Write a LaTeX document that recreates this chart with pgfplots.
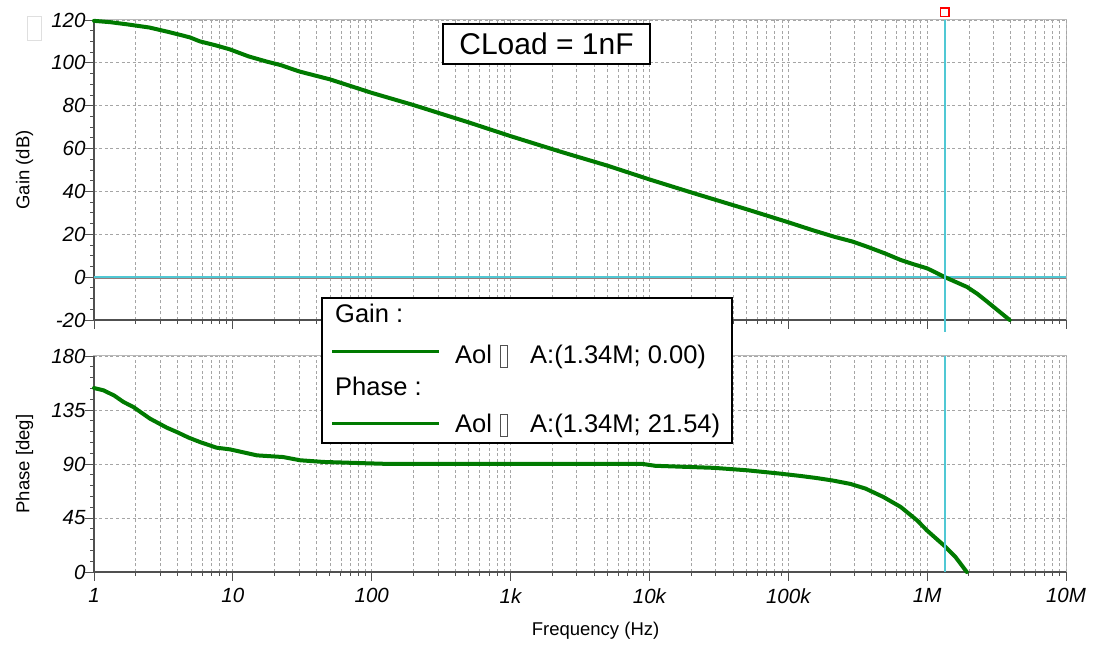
\documentclass[border=0pt]{standalone}
\usepackage{fontspec}
\setmainfont{Liberation Sans}
\usepackage{pgfplots}
\pgfplotsset{compat=1.18}

\definecolor{curve}{RGB}{0,122,0}
\definecolor{cursor}{RGB}{80,200,212}
\definecolor{gridc}{RGB}{165,165,165}
\definecolor{framec}{RGB}{80,80,80}
\definecolor{zeroc}{RGB}{150,125,125}

\pgfplotsset{
  bode/.style={
    scale only axis, width=972pt,
    xmin=1, xmax=1e7,
    xtick={1,10,100,1000,10000,100000,1000000,10000000},
    minor xtick={2,3,4,5,6,7,8,9,20,30,40,50,60,70,80,90,
      200,300,400,500,600,700,800,900,2000,3000,4000,5000,6000,7000,8000,9000,
      20000,30000,40000,50000,60000,70000,80000,90000,
      200000,300000,400000,500000,600000,700000,800000,900000,
      2000000,3000000,4000000,5000000,6000000,7000000,8000000,9000000},
    xmajorgrids, xminorgrids, ymajorgrids,
    grid style={gridc, dash pattern=on 3pt off 2.5pt, line width=0.8pt},
    minor grid style={gridc, dash pattern=on 3pt off 2.5pt, line width=0.8pt},
    axis background/.style={draw=gray!55, line width=1pt},
    axis x line*=bottom, axis y line*=left,
    axis line style={framec, line width=1.3pt},
    tick style={framec, line width=0.9pt},
    tick align=outside,
    major tick length=9pt, minor tick length=4pt,
    tick label style={font=\fontsize{20.5}{20.5}\selectfont\itshape},
    yticklabel style={xshift=4pt},
    xticklabel style={yshift=-4pt},
    /pgf/number format/assume math mode=true,
    every axis y label/.style={at={(axis description cs:-0.0715,0.5)}, rotate=90,
      anchor=center, font=\fontsize{18.5}{18.5}\selectfont},
    every axis x label/.style={at={(axis description cs:0.516,-0.273)},
      anchor=center, font=\fontsize{18.5}{18.5}\selectfont},
    clip=false,
  }
}

\begin{document}
\begin{tikzpicture}
\path[use as bounding box] (0,0) rectangle (1112pt,645pt);

% gain
\begin{axis}[xmode=log, bode, at={(94pt,325pt)}, anchor=south west, height=300pt,
  ymin=-20, ymax=120, ytick={-20,0,20,40,60,80,100,120}, minor y tick num=3,
  xticklabels={}, ylabel={Gain (dB)}]
\addplot[zeroc, line width=3.2pt] coordinates {(1,0) (1e7,0)};
\addplot[cursor, line width=1.6pt] coordinates {(1,0) (1e7,0)};
\addplot[curve, line width=4pt, line join=round, line cap=round] coordinates {
(1,119.6) (1.3,119) (1.72,118) (2.5,116.5) (3.5,114.3) (4.9,111.9) (5.8,110)
(7.5,108.2) (9.5,106.3) (13,103) (17.5,100.6) (22,99) (30,96) (50,92.3)
(100,86) (200,80.3) (500,72.2) (1000,65.8) (2300,58.5) (5000,52) (10000,45.6)
(21000,39.1) (50000,31.7) (100000,25.6) (150000,21.9) (213000,18.9)
(290000,16.6) (370000,14.2) (500000,11) (645000,8) (800000,6) (1000000,4.1)
(1150000,2.2) (1340000,0) (1600000,-2.2) (1940000,-4.6) (2300000,-7.8)
(2700000,-11.4) (3300000,-16) (3930000,-20)};
\draw[cursor, line width=2pt] (axis cs:1340000,120) -- (axis cs:1340000,-25.6);
\node[draw=red, fill=white, line width=1.5pt, minimum size=8.5pt, inner sep=0pt]
  at (axis cs:1340000,123.5) {};
\end{axis}

% phase
\begin{axis}[xmode=log, bode, at={(94pt,73pt)}, anchor=south west, height=216pt,
  ymin=0, ymax=180, ytick={0,45,90,135,180}, minor y tick num=4,
  xticklabels={1,10,100,1k,10k,100k,1M,10M},
  ylabel={Phase [deg]}, xlabel={Frequency (Hz)}]
\addplot[curve, line width=4pt, line join=round, line cap=round] coordinates {
(1,153.3) (1.17,151.4) (1.4,147) (1.63,141.7) (1.92,137.5) (2.53,127.8)
(3.34,120.3) (3.94,116.7) (4.8,112) (5.79,108.3) (7.63,103.6) (9.53,102.2)
(14.9,97.2) (23,95.8) (30.5,93.1) (45,91.7) (80,90.8) (120,90.2)
(1000,90) (9000,90) (11000,88.5) (29000,86.8) (50000,84.8) (87000,82)
(123000,80) (160000,78.3) (210000,76.2) (280000,73.4) (360000,69.5)
(484000,62.5) (645000,54.2) (847000,43) (1000000,34.5) (1340000,21.5)
(1600000,12.5) (1930000,0)};
\draw[cursor, line width=2pt] (axis cs:1340000,180) -- (axis cs:1340000,0);
\end{axis}

% title box
\node[draw, line width=1.5pt, fill=white, minimum width=207pt, minimum height=40pt,
  inner sep=0pt, font=\fontsize{30}{30}\selectfont] at (546.5pt,601pt) {CLoad = 1nF};

% small empty box top left
\draw[gray!25, line width=0.8pt] (27pt,605pt) rectangle (41pt,629pt);

% legend
\fill[white] (322pt,202pt) rectangle (732pt,347pt);
\draw[black, line width=1.3pt] (322pt,202pt) rectangle (732pt,347pt);
\begin{scope}[every node/.style={anchor=base west, inner sep=0pt, font=\fontsize{25.5}{25.5}\selectfont}]
\node at (335pt,322pt) {Gain :};
\draw[curve, line width=3pt] (332pt,293.3pt) -- (439pt,293.3pt);
\node at (455pt,281pt) {Aol};
\draw[framec, line width=0.8pt] (500.5pt,278pt) rectangle (507.5pt,300pt);
\node at (530pt,281pt) {A:(1.34M; 0.00)};
\node at (335pt,249pt) {Phase :};
\draw[curve, line width=3pt] (332pt,221.7pt) -- (439pt,221.7pt);
\node at (455pt,212pt) {Aol};
\draw[framec, line width=0.8pt] (500.5pt,209pt) rectangle (507.5pt,231pt);
\node at (530pt,212pt) {A:(1.34M; 21.54)};
\end{scope}
\end{tikzpicture}
\end{document}
